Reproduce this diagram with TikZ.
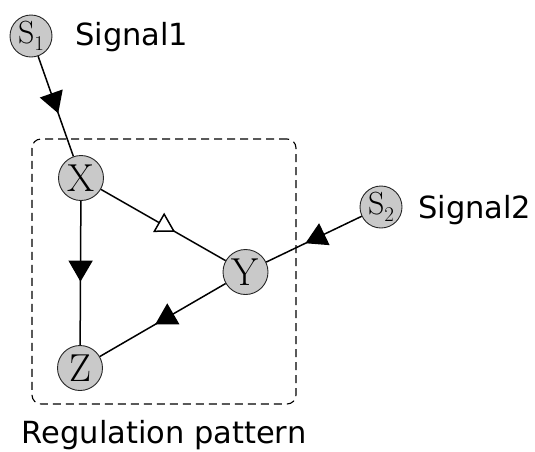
\documentclass[tikz,border=0pt]{standalone}
\usepackage{fontspec}
\newfontfamily\dvs{DejaVu Sans}
\usetikzlibrary{arrows.meta,decorations.markings}
\begin{document}
\begin{tikzpicture}[x=1pt,y=-1pt,
  nd/.style={circle,draw=black!85,fill=black!21,line width=0.9pt,minimum size=45pt,inner sep=0pt,font=\fontsize{39}{39}\selectfont},
  sn/.style={nd,minimum size=42pt,font=\fontsize{32}{32}\selectfont},
  lab/.style={font=\dvs\fontsize{30.5}{36}\selectfont,inner sep=0pt},
  edge/.style={line width=1.5pt},
  fwd/.style={edge,decoration={markings,mark=at position #1 with {\arrow{Triangle[length=21pt,width=24pt]}}},postaction=decorate},
  inh/.style={edge,decoration={markings,mark=at position #1 with {\arrow{Triangle[length=19pt,width=22pt,fill=white]}}},postaction=decorate},
  regionbox/.style={draw,line width=1.1pt,dash pattern=on 8pt off 5pt,rounded corners=9pt,inner sep=0pt}
]
\useasboundingbox (0,0) rectangle (535,451);
\node[regionbox,minimum width=264pt,minimum height=265pt] (box) at (164,271.5) {};
\node[sn] (s1) at (31,36) {S\raisebox{-0.22em}{\fontsize{21}{21}\selectfont 1}};
\node[sn] (s2) at (381,207) {S\raisebox{-0.22em}{\fontsize{21}{21}\selectfont 2}};
\node[nd] (x) at (81,178) {X};
\node[nd] (y) at (245.5,272) {Y};
\node[nd] (z) at (80,368) {Z};
\node[lab,anchor=base west] (sig1) at (75,45) {Signal1};
\node[lab,anchor=base west] (sig2) at (418,218) {Signal2};
\node[lab,anchor=base] (reglab) at (164,443) {Regulation pattern};
\draw[fwd=0.57] (s1) -- (x);
\draw[fwd=0.56] (x) -- (z);
\draw[fwd=0.56] (y) -- (z);
\draw[fwd=0.59] (s2) -- (y);
\draw[inh=0.595] (x) -- (y);
\end{tikzpicture}
\end{document}
